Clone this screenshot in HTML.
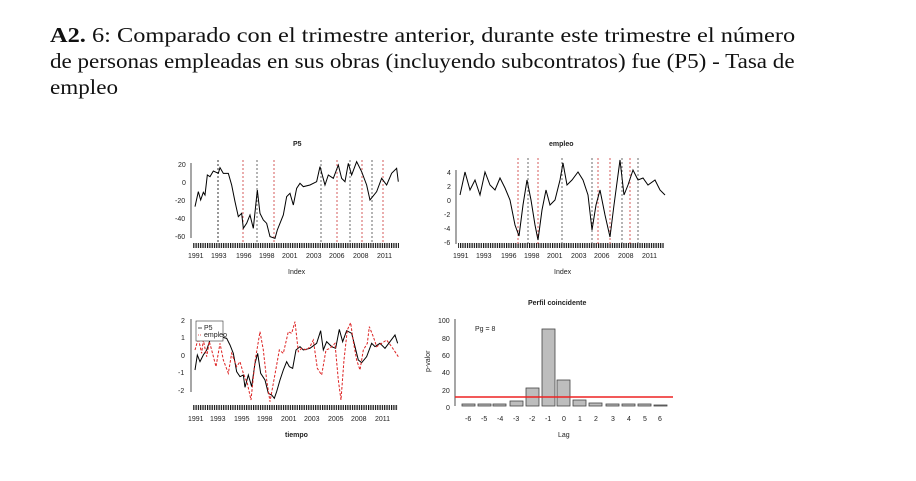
<!DOCTYPE html><html><head><meta charset="utf-8"><style>
body{margin:0;background:#fff;width:916px;height:481px;overflow:hidden;position:relative}
.t{position:absolute;left:50px;font-family:"Liberation Serif",serif;font-size:21px;color:#111;white-space:nowrap;transform-origin:0 0;transform:scaleX(1.16)}
svg text{font-family:"Liberation Sans",sans-serif;font-size:7px;fill:#222}
</style></head><body>
<div class="t" style="top:23px"><b>A2.</b> 6: Comparado con el trimestre anterior, durante este trimestre el número</div>
<div class="t" style="top:49px;transform:scaleX(1.098)">de personas empleadas en sus obras (incluyendo subcontratos) fue (P5) - Tasa de</div>
<div class="t" style="top:75px;transform:scaleX(1.1)">empleo</div>
<svg width="916" height="481" style="position:absolute;left:0;top:0">
<defs>
<pattern id="tk" width="2.3" height="5" patternUnits="userSpaceOnUse"><rect width="1.2" height="5" fill="#111"/></pattern>
</defs>
<!-- top-left P5 -->
<text x="293" y="146" font-weight="bold">P5</text>
<line x1="191" y1="163" x2="191" y2="238" stroke="#222" stroke-width="0.8"/>
<g font-size="7"><text x="178" y="167">20</text><text x="182" y="185">0</text><text x="175" y="203">-20</text><text x="175" y="221">-40</text><text x="175" y="239">-60</text></g>
<rect x="193" y="243" width="206" height="5" fill="url(#tk)"/>
<g font-size="6.5"><text x="188" y="258">1991</text><text x="211" y="258">1993</text><text x="236" y="258">1996</text><text x="259" y="258">1998</text><text x="282" y="258">2001</text><text x="306" y="258">2003</text><text x="329" y="258">2006</text><text x="353" y="258">2008</text><text x="377" y="258">2011</text></g>
<text x="288" y="274" font-size="6">Index</text>
<g stroke-width="0.8" stroke-dasharray="2,2">
<line x1="218" y1="160" x2="218" y2="244" stroke="#000"/><line x1="243" y1="160" x2="243" y2="244" stroke="#c33"/><line x1="257" y1="160" x2="257" y2="244" stroke="#444"/><line x1="274" y1="160" x2="274" y2="244" stroke="#c33"/><line x1="321" y1="160" x2="321" y2="244" stroke="#444"/><line x1="337" y1="160" x2="337" y2="244" stroke="#c33"/><line x1="350" y1="160" x2="350" y2="244" stroke="#444"/><line x1="362" y1="160" x2="362" y2="244" stroke="#c33"/><line x1="372" y1="160" x2="372" y2="244" stroke="#444"/><line x1="383" y1="160" x2="383" y2="244" stroke="#c33"/>
</g>
<g transform="translate(170,135) scale(0.3333)"><polyline fill="none" stroke="#000" stroke-width="3" points="75,215 85,170 92,195 100,172 105,180 112,120 120,125 130,108 145,115 150,98 160,115 175,115 185,150 195,200 205,245 215,235 220,280 230,265 240,240 250,280 262,165 270,235 280,255 290,265 300,305 315,310 322,285 340,240 350,185 360,175 370,210 380,160 390,145 400,155 420,150 440,140 450,95 465,150 475,120 490,130 505,90 515,130 525,140 535,85 545,120 560,80 575,110 590,150 600,195 620,170 635,130 650,150 665,115 680,100 685,140"/></g>
<!-- top-right empleo -->
<text x="549" y="146" font-weight="bold">empleo</text>
<line x1="456" y1="170" x2="456" y2="244" stroke="#222" stroke-width="0.8"/>
<g font-size="7"><text x="447" y="175">4</text><text x="447" y="189">2</text><text x="447" y="203">0</text><text x="444" y="217">-2</text><text x="444" y="231">-4</text><text x="444" y="245">-6</text></g>
<rect x="458" y="243" width="206" height="5" fill="url(#tk)"/>
<g font-size="6.5"><text x="453" y="258">1991</text><text x="476" y="258">1993</text><text x="501" y="258">1996</text><text x="524" y="258">1998</text><text x="547" y="258">2001</text><text x="571" y="258">2003</text><text x="594" y="258">2006</text><text x="618" y="258">2008</text><text x="642" y="258">2011</text></g>
<text x="554" y="274" font-size="6">Index</text>
<g stroke-width="0.8" stroke-dasharray="2,2">
<line x1="518" y1="158" x2="518" y2="244" stroke="#c33"/><line x1="528" y1="158" x2="528" y2="244" stroke="#444"/><line x1="538" y1="158" x2="538" y2="244" stroke="#c33"/><line x1="562" y1="158" x2="562" y2="244" stroke="#444"/><line x1="592" y1="158" x2="592" y2="244" stroke="#444"/><line x1="598" y1="158" x2="598" y2="244" stroke="#c33"/><line x1="610" y1="158" x2="610" y2="244" stroke="#c33"/><line x1="622" y1="158" x2="622" y2="244" stroke="#444"/><line x1="630" y1="158" x2="630" y2="244" stroke="#c33"/><line x1="638" y1="158" x2="638" y2="244" stroke="#444"/>
</g>
<polyline fill="none" stroke="#000" stroke-width="1" points="460,195 465,172 470,190 475,180 480,195 485,172 490,185 495,190 500,178 505,188 510,200 515,225 519,236 523,205 527,180 531,200 535,225 538,240 542,210 546,190 550,205 555,200 560,180 563,163 567,185 572,180 578,172 583,180 588,195 592,230 596,205 600,190 605,215 610,237 614,205 618,175 620,160 624,195 628,185 633,170 638,180 643,178 648,185 655,180 660,190 665,195"/>
<!-- bottom-left -->
<line x1="191" y1="319" x2="191" y2="392" stroke="#222" stroke-width="0.8"/>
<g font-size="7"><text x="181" y="323">2</text><text x="181" y="340">1</text><text x="181" y="358">0</text><text x="178" y="375">-1</text><text x="178" y="393">-2</text></g>
<rect x="193" y="405" width="205" height="5" fill="url(#tk)"/>
<g font-size="6.5"><text x="188" y="421">1991</text><text x="210" y="421">1993</text><text x="234" y="421">1995</text><text x="257" y="421">1998</text><text x="281" y="421">2001</text><text x="304" y="421">2003</text><text x="328" y="421">2005</text><text x="351" y="421">2008</text><text x="375" y="421">2011</text></g>
<text x="285" y="437" font-size="6.5" font-weight="bold">tiempo</text>
<g transform="translate(170,300) scale(0.3333)">
<polyline fill="none" stroke="#000" stroke-width="3" points="75,210 82,165 90,185 100,165 110,150 120,120 130,115 150,110 170,115 180,135 190,160 200,215 210,230 220,225 225,262 235,225 245,260 255,190 263,160 272,220 285,240 295,280 305,285 313,295 320,275 330,240 340,210 350,185 358,200 368,205 378,150 390,140 400,150 420,145 440,130 452,92 460,150 470,125 485,140 497,145 508,88 518,125 530,92 545,100 555,140 565,180 575,188 590,170 605,130 615,140 630,130 645,145 660,125 675,105 683,130"/>
<polyline fill="none" stroke="#d22" stroke-width="3" stroke-dasharray="8,5" points="75,150 85,115 95,160 100,120 110,170 118,125 125,150 138,200 150,130 160,180 175,220 185,160 200,200 210,185 220,220 232,250 243,300 255,185 270,95 280,150 290,240 300,305 310,250 320,195 328,150 340,160 355,95 365,100 375,65 385,155 395,145 410,150 420,140 430,120 442,205 455,225 468,150 480,145 495,130 505,240 513,300 522,180 532,90 542,68 550,125 560,180 570,210 580,150 592,130 598,80 610,110 620,140 635,130 650,120 665,140 685,170"/>
</g>
<rect x="196" y="321" width="27" height="20" fill="#fff" stroke="#333" stroke-width="0.6"/>
<line x1="198" y1="328" x2="202" y2="328" stroke="#000" stroke-width="0.7"/><text x="204" y="330" font-size="5">P5</text>
<line x1="198" y1="335" x2="202" y2="335" stroke="#d22" stroke-width="0.7" stroke-dasharray="1,1"/><text x="204" y="337" font-size="5">empleo</text>
<!-- bottom-right bar -->
<text x="528" y="305" font-weight="bold">Perfil coincidente</text>
<line x1="455" y1="319" x2="455" y2="406" stroke="#222" stroke-width="0.8"/>
<g font-size="7"><text x="438" y="323">100</text><text x="442" y="341">80</text><text x="442" y="358">60</text><text x="442" y="375">40</text><text x="442" y="393">20</text><text x="446" y="410">0</text></g>
<text x="475" y="331" font-size="6.5">Pg = 8</text>
<text transform="translate(430,372) rotate(-90)" font-size="6">p-valor</text>
<g fill="#bdbdbd" stroke="#444" stroke-width="0.8">
<rect x="462" y="404" width="13" height="2"/><rect x="478" y="404" width="13" height="2"/><rect x="493" y="404" width="13" height="2"/><rect x="510" y="401" width="13" height="5"/><rect x="526" y="388" width="13" height="18"/><rect x="542" y="329" width="13" height="77"/><rect x="557" y="380" width="13" height="26"/><rect x="573" y="400" width="13" height="6"/><rect x="589" y="403" width="13" height="3"/><rect x="606" y="404" width="13" height="2"/><rect x="622" y="404" width="13" height="2"/><rect x="638" y="404" width="13" height="2"/><rect x="654" y="405" width="13" height="1"/>
</g>
<line x1="455" y1="397" x2="673" y2="397" stroke="#e22" stroke-width="1.6"/>
<g font-size="6.5"><text x="465" y="421">-6</text><text x="481" y="421">-5</text><text x="497" y="421">-4</text><text x="513" y="421">-3</text><text x="529" y="421">-2</text><text x="545" y="421">-1</text><text x="562" y="421">0</text><text x="578" y="421">1</text><text x="594" y="421">2</text><text x="611" y="421">3</text><text x="627" y="421">4</text><text x="643" y="421">5</text><text x="658" y="421">6</text></g>
<text x="558" y="437" font-size="6">Lag</text>
</svg>
</body></html>
